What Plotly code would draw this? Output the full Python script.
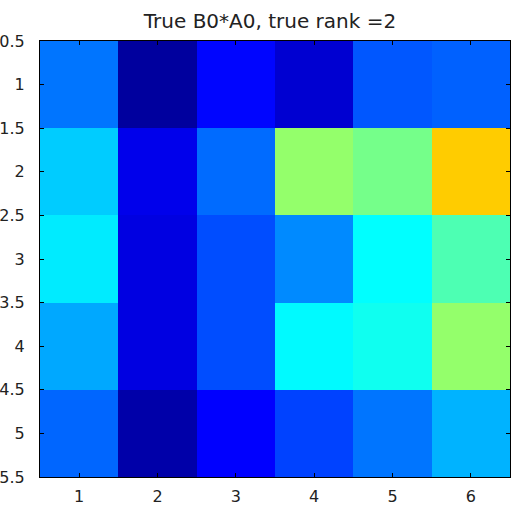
import plotly.graph_objects as go

cols = [1, 2, 3, 4, 5, 6]
rows = [1, 2, 3, 4, 5]
row1 = [0.24, 0.03, 0.13, 0.08, 0.21, 0.22]
row2 = [0.325, 0.105, 0.23, 0.52, 0.49, 0.675]
row3 = [0.355, 0.095, 0.20, 0.26, 0.375, 0.45]
row4 = [0.29, 0.095, 0.20, 0.37, 0.39, 0.52]
row5 = [0.225, 0.04, 0.125, 0.19, 0.24, 0.30]
y_ticks = [0.5, 1, 1.5, 2, 2.5, 3, 3.5, 4, 4.5, 5, 5.5]
y_ticklabels = ["0.5", "1", "1.5", "2", "2.5", "3", "3.5", "4", "4.5", "5", "5.5"]
title_text = "True B0*A0, true rank =2"

jet = [
    [0.0, "rgb(0,0,128)"],
    [0.125, "rgb(0,0,255)"],
    [0.375, "rgb(0,255,255)"],
    [0.625, "rgb(255,255,0)"],
    [0.875, "rgb(255,0,0)"],
    [1.0, "rgb(128,0,0)"],
]

fig = go.Figure(go.Heatmap(
    x=cols, y=rows, z=[row1, row2, row3, row4, row5],
    colorscale=jet, zmin=0, zmax=1, showscale=False, hoverinfo="skip",
))

font = dict(family="DejaVu Sans, Liberation Sans, sans-serif", size=16, color="#222")
fig.update_layout(
    width=512, height=505,
    margin=dict(l=40, r=2, t=41, b=28, autoexpand=False),
    paper_bgcolor="white", plot_bgcolor="white",
    title=dict(text=title_text, x=270 / 512, xref="container", xanchor="center",
               y=1 - 21 / 505, yanchor="middle",
               font=dict(family="DejaVu Sans, Liberation Sans, sans-serif", size=20, color="#222")),
    xaxis=dict(range=[0.5, 6.5], tickvals=cols, ticktext=[str(c) for c in cols],
               ticks="inside", ticklen=4, tickcolor="black", showline=True, linecolor="black",
               linewidth=1, mirror="ticks", showgrid=False, zeroline=False, tickfont=font,
               ticklabelstandoff=5, automargin=False),
    yaxis=dict(range=[5.5, 0.5], tickvals=y_ticks, ticktext=y_ticklabels,
               ticks="inside", ticklen=4, tickcolor="black", showline=True, linecolor="black",
               linewidth=1, mirror="ticks", showgrid=False, zeroline=False, tickfont=font,
               ticklabelstandoff=11, automargin=False),
)
fig.write_html(
    "out.html",
    config={"displayModeBar": False},
    post_script="document.body.style.margin='0';document.body.style.overflow='hidden';",
)
